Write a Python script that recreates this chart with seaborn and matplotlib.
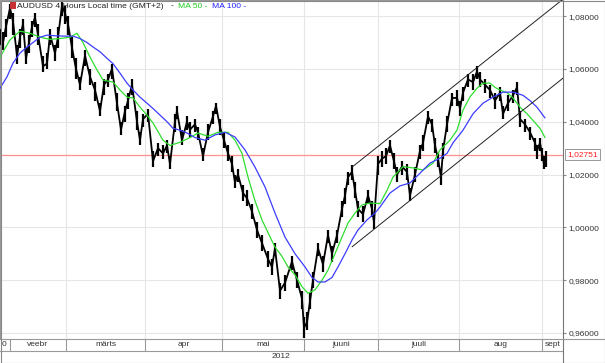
import matplotlib
matplotlib.use("Agg")
import matplotlib.pyplot as plt
import matplotlib.transforms as mtransforms
from matplotlib.patches import Rectangle
from matplotlib.lines import Line2D
import seaborn as sns

# price bars (x = position on the bar axis, prices in AUDUSD)
bar_pos = [0, 3, 6, 10, 13, 17, 20, 23, 26, 29,
           32, 35, 38, 43, 47, 50, 55, 58, 62, 65,
           68, 72, 76, 80, 85, 90, 95, 100, 104, 108,
           112, 117, 121, 125, 128, 132, 137, 140, 143, 148,
           153, 158, 163, 167, 170, 175, 177, 182, 187, 190,
           195, 198, 203, 208, 213, 216, 220, 224, 228, 232,
           235, 238, 243, 247, 252, 257, 262, 268, 272, 275,
           280, 285, 292, 297, 302, 304, 307, 310, 313, 318,
           323, 328, 332, 337, 342, 345, 348, 352, 355, 358,
           363, 368, 372, 374, 378, 382, 386, 390, 394, 397,
           402, 407, 410, 415, 420, 423, 428, 432, 435, 438,
           441, 443, 447, 452, 457, 460, 463, 468, 473, 477,
           480, 485, 490, 495, 500, 503, 508, 513, 517, 520,
           525, 530, 535, 537, 540, 542, 544, 546]
closes = [1.072, 1.070, 1.076, 1.083, 1.078, 1.065, 1.072, 1.077, 1.064, 1.070,
          1.076, 1.0795, 1.073, 1.061, 1.062, 1.073, 1.066, 1.072, 1.084, 1.081,
          1.077, 1.068, 1.060, 1.054, 1.065, 1.057, 1.052, 1.044, 1.054, 1.056,
          1.060, 1.047, 1.037, 1.044, 1.048, 1.054, 1.040, 1.033, 1.041, 1.043,
          1.025, 1.030, 1.028, 1.031, 1.024, 1.040, 1.044, 1.033, 1.040, 1.037,
          1.039, 1.036, 1.027, 1.036, 1.042, 1.046, 1.038, 1.033, 1.028, 1.024,
          1.017, 1.020, 1.013, 1.011, 1.006, 0.999, 0.994, 0.988, 0.985, 0.992,
          0.976, 0.979, 0.987, 0.980, 0.973, 0.962, 0.964, 0.972, 0.980, 0.992,
          0.986, 0.997, 0.990, 0.997, 1.007, 1.012, 1.019, 1.021, 1.014, 1.007,
          1.005, 1.012, 1.007, 1.002, 1.024, 1.026, 1.027, 1.031, 1.025, 1.020,
          1.023, 1.021, 1.012, 1.020, 1.029, 1.032, 1.042, 1.039, 1.031, 1.026,
          1.019, 1.029, 1.039, 1.049, 1.049, 1.045, 1.051, 1.056, 1.055, 1.059,
          1.056, 1.054, 1.052, 1.048, 1.051, 1.043, 1.047, 1.050, 1.053, 1.041,
          1.039, 1.036, 1.032, 1.029, 1.032, 1.028, 1.024, 1.027]
highs = [1.075, 1.074, 1.079, 1.0845, 1.081, 1.069, 1.075, 1.079, 1.068, 1.073,
         1.078, 1.081, 1.077, 1.065, 1.066, 1.075, 1.069, 1.076, 1.0855, 1.084,
         1.080, 1.072, 1.064, 1.057, 1.067, 1.060, 1.055, 1.047, 1.056, 1.058,
         1.062, 1.051, 1.040, 1.046, 1.051, 1.056, 1.044, 1.036, 1.043, 1.045,
         1.029, 1.032, 1.031, 1.033, 1.027, 1.043, 1.046, 1.037, 1.042, 1.040,
         1.041, 1.038, 1.030, 1.039, 1.044, 1.047, 1.041, 1.036, 1.031, 1.027,
         1.020, 1.022, 1.016, 1.014, 1.009, 1.002, 0.997, 0.991, 0.988, 0.994,
         0.979, 0.982, 0.989, 0.983, 0.976, 0.966, 0.968, 0.975, 0.983, 0.994,
         0.989, 0.999, 0.993, 0.999, 1.010, 1.015, 1.021, 1.0235, 1.017, 1.010,
         1.008, 1.014, 1.010, 1.005, 1.027, 1.029, 1.030, 1.033, 1.028, 1.023,
         1.025, 1.024, 1.015, 1.023, 1.031, 1.035, 1.044, 1.041, 1.034, 1.028,
         1.022, 1.032, 1.042, 1.051, 1.052, 1.048, 1.053, 1.058, 1.058, 1.061,
         1.059, 1.056, 1.054, 1.051, 1.053, 1.046, 1.050, 1.052, 1.055, 1.044,
         1.041, 1.038, 1.034, 1.031, 1.034, 1.030, 1.027, 1.029]
lows = [1.069, 1.067, 1.072, 1.079, 1.073, 1.062, 1.068, 1.073, 1.062, 1.066,
        1.072, 1.076, 1.069, 1.059, 1.060, 1.069, 1.063, 1.068, 1.080, 1.077,
        1.073, 1.064, 1.056, 1.052, 1.061, 1.054, 1.048, 1.042, 1.050, 1.053,
        1.056, 1.044, 1.035, 1.040, 1.045, 1.050, 1.037, 1.031, 1.038, 1.040,
        1.023, 1.027, 1.026, 1.028, 1.022, 1.036, 1.041, 1.031, 1.037, 1.034,
        1.036, 1.033, 1.025, 1.033, 1.039, 1.043, 1.035, 1.030, 1.025, 1.021,
        1.015, 1.017, 1.010, 1.008, 1.003, 0.996, 0.991, 0.985, 0.982, 0.989,
        0.973, 0.976, 0.984, 0.977, 0.969, 0.958, 0.961, 0.969, 0.977, 0.989,
        0.983, 0.994, 0.987, 0.994, 1.004, 1.009, 1.016, 1.018, 1.011, 1.004,
        1.002, 1.009, 1.004, 0.9995, 1.020, 1.023, 1.024, 1.028, 1.022, 1.017,
        1.020, 1.018, 1.010, 1.017, 1.026, 1.029, 1.039, 1.036, 1.028, 1.023,
        1.016, 1.026, 1.036, 1.046, 1.046, 1.042, 1.048, 1.053, 1.052, 1.056,
        1.053, 1.051, 1.049, 1.045, 1.048, 1.041, 1.044, 1.047, 1.050, 1.038,
        1.036, 1.033, 1.029, 1.026, 1.029, 1.025, 1.022, 1.023]

# moving averages
ma50_pos = [0, 10, 20, 30, 40, 50, 60, 70, 77, 83,
            90, 97, 103, 113, 120, 127, 133, 140, 147, 153,
            163, 170, 180, 190, 198, 208, 218, 228, 235, 242,
            248, 255, 262, 268, 275, 282, 288, 295, 302, 308,
            315, 322, 328, 335, 342, 348, 355, 362, 370, 380,
            387, 393, 403, 413, 423, 433, 440, 450, 457, 463,
            470, 477, 483, 490, 495, 500, 507, 513, 520, 527,
            533, 540, 545]
ma50 = [1.0645, 1.071, 1.0743, 1.0735, 1.072, 1.0712, 1.0715, 1.072, 1.0735, 1.070,
        1.0645, 1.0596, 1.0558, 1.055, 1.052, 1.0493, 1.049, 1.0455, 1.0425, 1.0395,
        1.033, 1.031, 1.0322, 1.034, 1.0357, 1.0345, 1.036, 1.036, 1.033, 1.028,
        1.019, 1.010, 1.0028, 0.998, 0.9925, 0.989, 0.985, 0.982, 0.9775, 0.975,
        0.9763, 0.980, 0.9838, 0.990, 0.9963, 1.0016, 1.0054, 1.0085, 1.0092, 1.009,
        1.014, 1.019, 1.023, 1.0225, 1.0217, 1.0243, 1.0293, 1.033, 1.0368, 1.0444,
        1.0494, 1.0527, 1.0546, 1.0546, 1.053, 1.052, 1.051, 1.049, 1.0455, 1.043,
        1.0405, 1.0375, 1.034]
ma100_pos = [0, 7, 13, 20, 27, 33, 40, 47, 57, 67,
             73, 80, 87, 93, 100, 107, 113, 120, 127, 133,
             140, 147, 153, 160, 167, 173, 180, 187, 195, 205,
             215, 225, 235, 245, 255, 265, 275, 285, 295, 305,
             312, 318, 325, 332, 338, 345, 352, 358, 367, 375,
             380, 390, 400, 410, 420, 430, 440, 447, 453, 463,
             473, 483, 493, 503, 513, 523, 530, 537, 545]
ma100 = [1.0527, 1.057, 1.0622, 1.066, 1.0683, 1.070, 1.072, 1.0728, 1.0725, 1.0724,
         1.0724, 1.0715, 1.070, 1.0683, 1.0665, 1.064, 1.062, 1.0584, 1.0546, 1.052,
         1.0493, 1.047, 1.045, 1.0425, 1.040, 1.0375, 1.0368, 1.0357, 1.034, 1.033,
         1.035, 1.036, 1.0342, 1.0293, 1.0228, 1.0153, 1.0054, 0.9963, 0.990, 0.985,
         0.981, 0.9793, 0.9793, 0.981, 0.985, 0.990, 0.9952, 0.999, 1.0028, 1.0054,
         1.0077, 1.013, 1.0157, 1.0168, 1.0205, 1.0243, 1.0262, 1.028, 1.032, 1.0368,
         1.043, 1.047, 1.0493, 1.0512, 1.0512, 1.050, 1.048, 1.0455, 1.0414]

# trend channel (start x, start price, end x, end price)
channel = [(352, 1.0228, 563, 1.0864), (352, 0.9926, 563, 1.0565)]
last_price = 1.02751

y_ticks = [0.96, 0.98, 1.00, 1.02, 1.04, 1.06, 1.08]
month_edges = [10, 66, 145, 222, 304, 378, 459, 542, 563]
month_labels = ["veebr", "märts", "apr", "mai", "juuni", "juuli", "aug", "sept"]
year_label = "2012"

sns.set_style("white")
plt.rcParams["font.family"] = ["Liberation Sans", "DejaVu Sans"]

W, H = 605, 363
fig = plt.figure(figsize=(W / 100, H / 100), dpi=100)
ax = fig.add_axes([0, 24 / H, 563 / W, 339 / H])

grid_c = "#e6e6e6"
for y in y_ticks:
    ax.axhline(y, color=grid_c, lw=0.8, zorder=0)
for x in month_edges[1:-1]:
    ax.axvline(x, color=grid_c, lw=0.8, zorder=0)

ax.axhline(last_price, color="#ff9090", lw=0.9, zorder=1)

ax.vlines(bar_pos, lows, highs, color="black", lw=1.6, zorder=3)
sns.lineplot(x=bar_pos, y=closes, ax=ax, color="black", lw=1.3, sort=False, zorder=3)
sns.lineplot(x=ma50_pos, y=ma50, ax=ax, color="#2ede2e", lw=0.9, sort=False, zorder=4)
sns.lineplot(x=ma100_pos, y=ma100, ax=ax, color="#3c3cff", lw=0.9, sort=False, zorder=4)

for x0, y0, x1, y1 in channel:
    ax.plot([x0, x1], [y0, y1], color="#222222", lw=0.7, zorder=5)

ax.set_xlim(0, 563)
ax.set_ylim(0.9577, 1.0861)
ax.set_xticks([])
ax.set_xlabel("")
ax.set_ylabel("")
ax.yaxis.tick_right()
ax.set_yticks(y_ticks)
ax.set_yticklabels([f"{v:.5f}".replace(".", ",") for v in y_ticks], fontsize=6, color="#333333")
ax.tick_params(axis="y", length=2, pad=2, color="#888888")
for side in ["top", "left", "bottom"]:
    ax.spines[side].set_color("#999999")
    ax.spines[side].set_linewidth(0.8)
ax.spines["right"].set_color("#777777")
ax.spines["right"].set_linestyle((0, (1, 1)))
ax.spines["right"].set_linewidth(0.8)

# last price box
trans = mtransforms.blended_transform_factory(ax.transAxes, ax.transData)
ax.text(1 + 4 / 563, last_price, f"{last_price:.5f}".replace(".", ","), transform=trans,
        fontsize=6, color="#ff2020", va="center", ha="left", clip_on=False, zorder=6,
        bbox=dict(boxstyle="square,pad=0.25", fc="white", ec="#888888", lw=0.6))

# title
fig.add_artist(Rectangle((10 / W, 1 - 9 / H), 6 / W, 7 / H, transform=fig.transFigure,
                         fc="#c83232", ec="none"))
ty = 1 - 6 / H
fig.text(17 / W, ty, "AUDUSD 4 Hours Local time (GMT+2)", fontsize=6.1, color="#222222", va="center")
fig.text(171 / W, ty, "-", fontsize=6.1, color="#222222", va="center")
fig.text(178 / W, ty, "MA 50 -", fontsize=6.1, color="#22cc22", va="center")
fig.text(212 / W, ty, "MA 100 -", fontsize=6.1, color="#2020ff", va="center")

# bottom time axis
axb = fig.add_axes([0, 0, 563 / W, 24 / H])
axb.set_xlim(0, 563)
axb.set_ylim(0, 24)
axb.axis("off")
line_c = "#999999"
axb.plot([0, 563], [12, 12], color=line_c, lw=0.8)
for x in month_edges[:-1]:
    axb.plot([x, x], [12, 24], color=line_c, lw=0.8)
axb.plot([563, 563], [0, 24], color="#777777", lw=0.8, clip_on=False)
axb.text(4, 18, "0", fontsize=6, ha="center", va="center", color="#333333")
for lbl, a, b in zip(month_labels, month_edges[:-1], month_edges[1:]):
    axb.text((a + b) / 2, 18, lbl, fontsize=6, ha="center", va="center", color="#333333")
axb.text(281, 6, year_label, fontsize=6, ha="center", va="center", color="#333333")

# outer frame
fig.add_artist(Rectangle((0.5 / W, 0.5 / H), 1 - 1 / W, 1 - 1 / H, transform=fig.transFigure,
                         fill=False, ec="#888888", lw=0.8))
fig.add_artist(Line2D([563 / W, 1], [24 / H, 24 / H], transform=fig.transFigure,
                      color=line_c, lw=0.8))

fig.savefig("out.png", dpi=100)
